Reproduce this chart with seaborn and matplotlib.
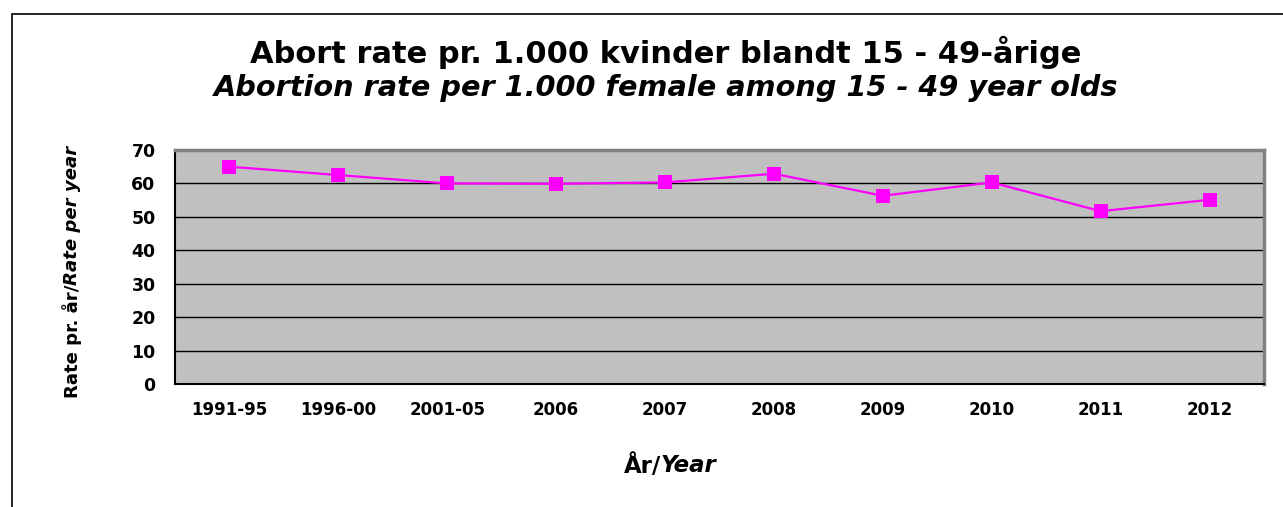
import matplotlib
matplotlib.use("Agg")
import matplotlib.pyplot as plt
import seaborn as sns
import pandas as pd
from matplotlib.patches import Rectangle

periods = ["1991-95", "1996-00", "2001-05", "2006", "2007", "2008", "2009", "2010", "2011", "2012"]
rates = [65.0, 62.5, 60.0, 59.9, 60.3, 62.9, 56.3, 60.3, 51.7, 55.1]
yticks = [0, 10, 20, 30, 40, 50, 60, 70]

title1 = "Abort rate pr. 1.000 kvinder blandt 15 - 49-årige"
title2 = "Abortion rate per 1.000 female among 15 - 49 year olds"

sns.set_style("white")
plt.rcParams['font.family'] = ['DejaVu Sans']
plt.rcParams['text.color'] = 'black'
plt.rcParams['xtick.color'] = 'black'
plt.rcParams['ytick.color'] = 'black'
plt.rcParams['xtick.labelcolor'] = 'black'
plt.rcParams['ytick.labelcolor'] = 'black'

W, H = 1283, 507
fig = plt.figure(figsize=(W / 100, H / 100), dpi=100)
ax = fig.add_axes([175 / W, 1 - 384 / H, (1264 - 175) / W, (384 - 150) / H])

df = pd.DataFrame({"period": periods, "rate": rates})
df["x"] = range(len(periods))
sns.lineplot(data=df, x="x", y="rate", ax=ax, color="#FF00FF", linewidth=1.6,
             marker="s", markersize=10, markeredgewidth=0, markerfacecolor="#FF00FF")

ax.set_facecolor("#C0C0C0")
ax.set_xlim(-0.5, len(periods) - 0.5)
ax.set_ylim(0, 70)
ax.set_yticks(yticks)
ax.set_yticklabels([str(v) for v in yticks], fontsize=12.5, fontweight="bold")
ax.set_xticks(range(len(periods)))
ax.set_xticklabels(periods, fontsize=12, fontweight="bold")
ax.set_xticks([i - 0.5 for i in range(len(periods) + 1)], minor=True)
ax.tick_params(axis="x", which="major", length=0, pad=12)
ax.tick_params(axis="x", which="minor", length=6, width=1, color="black", direction="out")
ax.tick_params(axis="y", which="major", length=5, width=1, color="black", direction="out", pad=9)
ax.yaxis.grid(True, color="black", linewidth=1)
ax.set_axisbelow(True)
ax.set_xlabel("")
ax.set_ylabel("")
for s in ["left", "bottom"]:
    ax.spines[s].set_color("black")
    ax.spines[s].set_linewidth(1.5)
for s in ["top", "right"]:
    ax.spines[s].set_color("#808080")
    ax.spines[s].set_linewidth(2.5)

# outer frame
fig.patches.append(Rectangle((12 / W, -0.2), 2.0, (1 - 14 / H) + 0.2, transform=fig.transFigure,
                             fill=False, edgecolor="black", linewidth=1.2, clip_on=False))

fig.text(666 / W, 1 - 52 / H, title1, ha="center", va="center", fontsize=22, fontweight="bold")
fig.text(666 / W, 1 - 88.5 / H, title2, ha="center", va="center", fontsize=20.7, fontweight="bold", style="italic")

renderer = fig.canvas.get_renderer()

# x label: "År/" bold + "Year" bold italic, centered
cx, cy = 670 / W, 1 - 466 / H
t1 = fig.text(0, cy, "År/", ha="left", va="center", fontsize=16.5, fontweight="bold")
t2 = fig.text(0, cy, "Year", ha="left", va="center", fontsize=16.5, fontweight="bold", style="italic")
w1 = t1.get_window_extent(renderer).width / W
w2 = t2.get_window_extent(renderer).width / W
x0 = cx - (w1 + w2) / 2
t1.set_x(x0)
t2.set_x(x0 + w1)

# y label rotated: "Rate pr. år/" bold + "Rate per year" bold italic
ly_x, ly_c = 72 / W, 1 - 272 / H
u1 = fig.text(ly_x, 0, "Rate pr. år/", ha="center", va="bottom", rotation=90, fontsize=13.1, fontweight="bold")
u2 = fig.text(ly_x, 0, "Rate per year", ha="center", va="bottom", rotation=90, fontsize=13.1, fontweight="bold", style="italic")
h1 = u1.get_window_extent(renderer).height / H
h2 = u2.get_window_extent(renderer).height / H
y0 = ly_c - (h1 + h2) / 2
u1.set_y(y0)
u2.set_y(y0 + h1)

fig.savefig("out.png", dpi=100)
